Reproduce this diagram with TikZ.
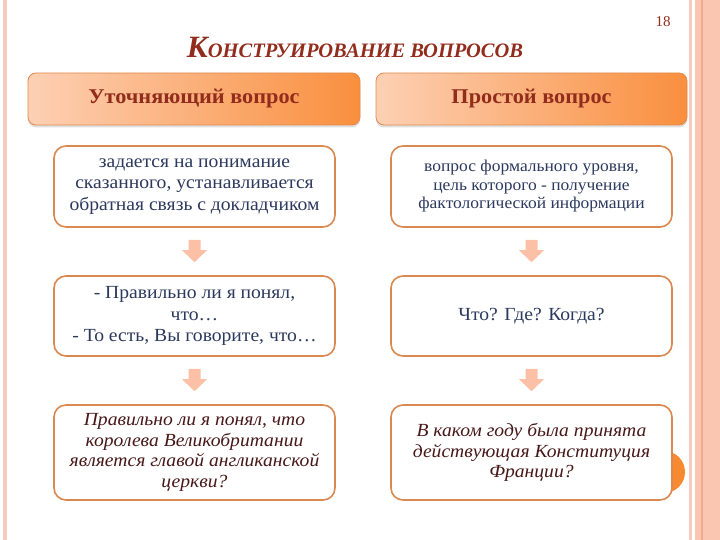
\documentclass[tikz,border=0pt]{standalone}
\usepackage{fontspec}
\setmainfont{Liberation Serif}
\newfontfamily\boxfont[FakeStretch=1.06]{Liberation Serif}
\usetikzlibrary{calc,shadows}

\definecolor{titleRed}{RGB}{146,44,28}
\definecolor{textNavy}{RGB}{44,57,94}
\definecolor{textMaroon}{RGB}{72,24,24}
\definecolor{hdrLight}{RGB}{253,208,180}
\definecolor{hdrOrange}{RGB}{249,143,62}
\definecolor{hdrBorder}{RGB}{226,139,78}
\definecolor{boxBorder}{RGB}{218,137,80}
\definecolor{arrowFill}{RGB}{251,192,166}
\definecolor{sidePink}{RGB}{246,202,189}
\definecolor{bandSalmon}{RGB}{251,198,177}
\definecolor{bandLine}{RGB}{241,171,144}
\definecolor{dotOrange}{RGB}{247,137,47}

\tikzset{
    % header boxes with gradient
    header box/.style={
        draw=hdrBorder,
        line width=0.8pt,
        rounded corners=8pt,
        left color=hdrLight,
        right color=hdrOrange,
        minimum height=52pt,
        drop shadow={opacity=0.25, shadow xshift=0pt, shadow yshift=-2.5pt},
        font=\boxfont\bfseries\fontsize{21}{24}\selectfont,
        text=titleRed
    },
    % white content boxes
    step box/.style={
        draw=boxBorder,
        line width=1.6pt,
        rounded corners=12pt,
        fill=white,
        minimum width=281pt,
        align=center,
        inner sep=0pt,
        text=textNavy,
        font=\boxfont\fontsize{18.5}{21.5}\selectfont
    },
    % example boxes, italic
    example box/.style={
        step box,
        text=textMaroon,
        font=\boxfont\itshape\fontsize{18.5}{20.5}\selectfont
    },
    arrow fill/.style={fill=arrowFill}
}

% block arrow from one box down to the next
\newcommand{\flowarrow}[2]{%
    \fill[arrow fill] ($(#1.south)+(-6,12)$) -- ($(#1.south)+(6,12)$)
        -- ($(#2.north)+(6,-25)$) -- ($(#2.north)+(12.5,-25)$)
        -- ($(#2.north)+(0,-13)$) -- ($(#2.north)+(-12.5,-25)$)
        -- ($(#2.north)+(-6,-25)$) -- cycle;}

\begin{document}
\begin{tikzpicture}[x=1pt,y=-1pt]

% Canvas of the slide
\useasboundingbox (0,0) rectangle (720,540);
\fill[white] (0,0) rectangle (720,540);

% Side stripes
\fill[sidePink] (3,0) rectangle (7,540);
\fill[sidePink] (689,0) rectangle (692,540);
\fill[bandSalmon] (695,0) rectangle (720,540);
\fill[bandLine] (700.5,0) rectangle (702.5,540);

% Orange dot behind the last box
\fill[dotOrange] (664,472) circle (21);

% Page number and title
\node[text=titleRed, font=\fontsize{15}{16}\selectfont] (pnum) at (663,22) {18};
\node[text=titleRed, font=\bfseries\itshape] (title) at (355,47)
    {{\fontsize{31}{32}\selectfont К}{\fontsize{20.5}{22}\selectfont ОНСТРУИРОВАНИЕ ВОПРОСОВ}};

% Column headers
\node[header box, minimum width=332pt] (hdrLeft) at (194,99) {Уточняющий вопрос};
\node[header box, minimum width=311pt] (hdrRight) at (531.5,99) {Простой вопрос};

% Left column
\node[step box, minimum height=81pt] (left1) at (194.5,186.5)
    {задается на понимание\\сказанного, устанавливается\\обратная связь с докладчиком};
\node[step box, minimum height=80pt] (left2) at (194.5,316)
    {- Правильно ли я понял,\\что…\\- То есть, Вы говорите, что…};
\node[example box, minimum height=95pt] (left3) at (194.5,452.5)
    {Правильно ли я понял, что\\королева Великобритании\\является главой англиканской\\церкви?};

% Right column
\node[step box, minimum height=81pt, font=\boxfont\fontsize{16.5}{18.5}\selectfont] (right1) at (531.5,186.5)
    {вопрос формального уровня,\\цель которого - получение\\фактологической информации};
\node[step box, minimum height=80pt] (right2) at (531.5,316) {Что? Где? Когда?};
\node[example box, minimum height=95pt] (right3) at (531.5,452.5)
    {В каком году была принята\\действующая Конституция\\Франции?};

% Arrows between boxes
\flowarrow{left1}{left2}
\flowarrow{left2}{left3}
\flowarrow{right1}{right2}
\flowarrow{right2}{right3}

\end{tikzpicture}
\end{document}
